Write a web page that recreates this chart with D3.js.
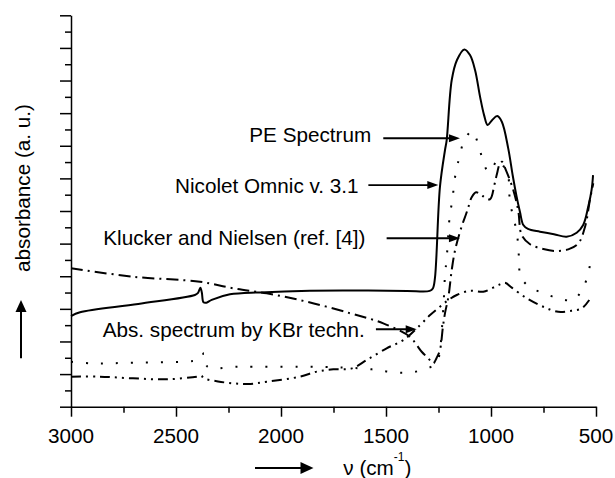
<!DOCTYPE html>
<html>
<head>
<meta charset="utf-8">
<script src="https://cdn.jsdelivr.net/npm/d3@7"></script>
<style>
  html, body { margin: 0; padding: 0; background: #fff; }
  svg { display: block; }
  text { font-family: "Liberation Sans", Arial, Helvetica, sans-serif; fill: #000; }
</style>
</head>
<body>
<svg id="chart" width="615" height="478"></svg>
<script>
// ---------- data (wavenumber cm^-1, absorbance a.u.) ----------
const nicoletOmnic = [
  [3000,5.56],[2957,5.79],[2680,6.3],[2410,6.85],[2395,6.98],[2384,7.3],[2377,7.0],[2369,6.4],
  [2355,6.38],[2330,6.55],[2243,6.89],[2100,7.01],[1862,7.11],[1600,7.12],[1400,7.1],[1292,7.1],
  [1277,7.25],[1267,7.88],[1243,13.49],[1219,15.74],[1211,16.35],[1187,20.03],[1162,21.26],
  [1127,21.91],[1100,21.56],[1076,20.65],[1052,19.0],[1033,17.88],[1016,17.27],[995,17.57],
  [970,17.82],[948,17.46],[918,15.84],[897,14.21],[878,12.88],[862,11.94],[846,11.14],[824,10.9],
  [767,10.73],[700,10.58],[640,10.42],[592,10.67],[561,11.14],[537,12.26],[521,13.29],[514,14.2]
];
const peSpectrum = [
  [3000,2.76],[2900,2.66],[2700,2.7],[2420,2.8],[2385,2.9],[2367,3.3],[2350,2.45],[2200,2.45],
  [1910,2.45],[1700,2.4],[1568,2.29],[1489,2.15],[1410,2.08],[1338,2.21],[1265,2.6],[1251,2.92],
  [1243,3.41],[1233,4.9],[1225,6.5],[1219,8.07],[1211,9.1],[1195,11.88],[1183,12.67],[1176,13.7],
  [1163,14.62],[1148,15.43],[1127,16.35],[1089,16.9],[1060,16.04],[1040,15.17],[1013,14.41],
  [990,14.7],[970,15.17],[943,14.8],[918,14.1],[910,12.57],[894,11.65],[878,10.73],[870,9.81],
  [866,8.89],[859,7.97],[814,7.32],[748,6.95],[680,6.65],[608,6.54],[563,7.26],[537,8.14],[529,8.7]
];
const kluckerNielsen = [
  [3000,8.49],[2705,7.97],[2386,7.66],[2227,7.26],[2068,6.95],[1880,6.45],[1671,5.73],[1513,5.11],
  [1386,4.29],[1354,3.78],[1330,3.37],[1299,2.97],[1275,2.66],[1259,2.99],[1243,3.48],[1229,4.89],
  [1219,5.74],[1203,6.73],[1187,8.38],[1171,9.6],[1140,11.04],[1119,11.8],[1108,12.23],[1092,12.84],
  [1071,13.15],[1040,12.92],[1005,12.72],[984,13.6],[973,14.2],[957,14.94],[948,15.02],[929,14.51],
  [894,13.29],[870,12.0],[854,10.53],[814,9.96],[751,9.67],[695,9.55],[632,9.65],[584,10.02],
  [552,11.04],[529,12.67],[513,13.7]
];
const kbrTechnique = [
  [3000,1.84],[2862,1.84],[2705,1.74],[2544,1.68],[2401,1.84],[2380,1.9],[2367,1.74],[2300,1.55],
  [2227,1.43],[2156,1.39],[2068,1.53],[1910,1.84],[1830,2.15],[1751,2.29],[1663,2.35],[1592,2.86],
  [1497,3.58],[1417,4.09],[1338,5.0],[1290,5.62],[1243,6.13],[1203,6.54],[1163,6.85],[1100,7.11],
  [1037,7.05],[990,7.3],[957,7.5],[933,7.6],[901,7.3],[830,6.65],[751,6.13],[680,5.82],[616,5.89],
  [568,6.03],[532,6.54]
];
const xTickValues = [3000, 2750, 2500, 2250, 2000, 1750, 1500, 1250, 1000, 750, 500];
const xTickLabels = ["3000", "", "2500", "", "2000", "", "1500", "", "1000", "", "500"];
const yTickValues = d3.range(0, 25, 1);

// annotations: label text and arrow tip/tail in data units
const annotations = [
  { text: "PE Spectrum",                    tx: 249.3, ty: 141.7, from: 1513, to: 1148, at: 16.46 },
  { text: "Nicolet Omnic v. 3.1",           tx: 175,   ty: 192.7, from: 1584, to: 1251, at: 13.59 },
  { text: "Klucker and Nielsen (ref. [4])", tx: 103.3, ty: 245.3, from: 1497, to: 1148, at: 10.33 },
  { text: "Abs. spectrum by KBr techn.",    tx: 102.7, ty: 337.3, from: 1548, to: 1354, at: 4.75 }
];

// ---------- drawing ----------
const svg = d3.select("#chart");
const x = d3.scaleLinear().domain([3000, 500]).range([71, 596]);
const y = d3.scaleLinear().domain([0, 24]).range([406.7, 15.3]);
const FS = 20.7;

const line = d3.line()
  .x(d => x(d[0])).y(d => y(d[1]))
  .curve(d3.curveCatmullRom.alpha(0.5));

const series = [
  { data: nicoletOmnic,   dash: null },
  { data: peSpectrum,     dash: "2 13" },
  { data: kluckerNielsen, dash: "12 5 2 5" },
  { data: kbrTechnique,   dash: "10 5 2 5 2 5" }
];
series.forEach(s => {
  svg.append("path")
    .attr("d", line(s.data))
    .attr("fill", "none")
    .attr("stroke", "#000")
    .attr("stroke-width", 2)
    .attr("stroke-dasharray", s.dash);
});

// y axis
const yAxis = svg.append("g").attr("transform", `translate(${x(3000)},0)`)
  .call(d3.axisLeft(y).tickValues(yTickValues).tickFormat("").tickSizeOuter(0));
yAxis.selectAll(".tick line").attr("x2", d => d % 2 === 0 ? -11 : -6);
yAxis.selectAll("path, line").attr("stroke", "#000").attr("stroke-width", 1.5);

// x axis
const xAxis = svg.append("g").attr("transform", `translate(0,${y(0)})`)
  .call(d3.axisBottom(x).tickValues(xTickValues).tickFormat("").tickSizeOuter(0));
xAxis.selectAll(".tick line").attr("y2", d => d % 500 === 0 ? 10 : 6);
xAxis.selectAll("path, line").attr("stroke", "#000").attr("stroke-width", 1.5);
xTickValues.forEach((v, i) => {
  if (!xTickLabels[i]) return;
  svg.append("text").attr("x", x(v)).attr("y", 443.3)
    .attr("text-anchor", "middle").attr("font-size", FS).text(xTickLabels[i]);
});

// arrowhead helper
function arrowHead(tipX, tipY, dir, len, half) {
  // dir: "right" or "up"
  if (dir === "right")
    return `M${tipX},${tipY}L${tipX - len},${tipY - half}L${tipX - len},${tipY + half}Z`;
  return `M${tipX},${tipY}L${tipX - half},${tipY + len}L${tipX + half},${tipY + len}Z`;
}

// annotations
annotations.forEach(a => {
  svg.append("text").attr("x", a.tx).attr("y", a.ty).attr("font-size", FS).text(a.text);
  const x0 = x(a.from), x1 = x(a.to), yy = y(a.at);
  svg.append("line").attr("x1", x0).attr("x2", x1 - 8).attr("y1", yy).attr("y2", yy)
    .attr("stroke", "#000").attr("stroke-width", 1.8);
  svg.append("path").attr("d", arrowHead(x1, yy, "right", 11, 4)).attr("fill", "#000");
});

// y axis title with arrow
svg.append("text")
  .attr("transform", "translate(30,188) rotate(-90)")
  .attr("text-anchor", "middle").attr("font-size", FS)
  .text("absorbance (a. u.)");
svg.append("line").attr("x1", 21).attr("x2", 21).attr("y1", 358.3).attr("y2", 308)
  .attr("stroke", "#000").attr("stroke-width", 2);
svg.append("path").attr("d", arrowHead(21, 300, "up", 12, 5.5)).attr("fill", "#000");

// x axis title with arrow
svg.append("line").attr("x1", 255).attr("x2", 303).attr("y1", 468).attr("y2", 468)
  .attr("stroke", "#000").attr("stroke-width", 2);
svg.append("path").attr("d", arrowHead(313.5, 468, "right", 13, 6)).attr("fill", "#000");
const xt = svg.append("text").attr("x", 343.3).attr("y", 475).attr("font-size", FS);
xt.append("tspan").text("\u03BD (cm");
xt.append("tspan").attr("font-size", 12).attr("dy", -14).text("-1");
xt.append("tspan").attr("dy", 14).text(")");
</script>
</body>
</html>
